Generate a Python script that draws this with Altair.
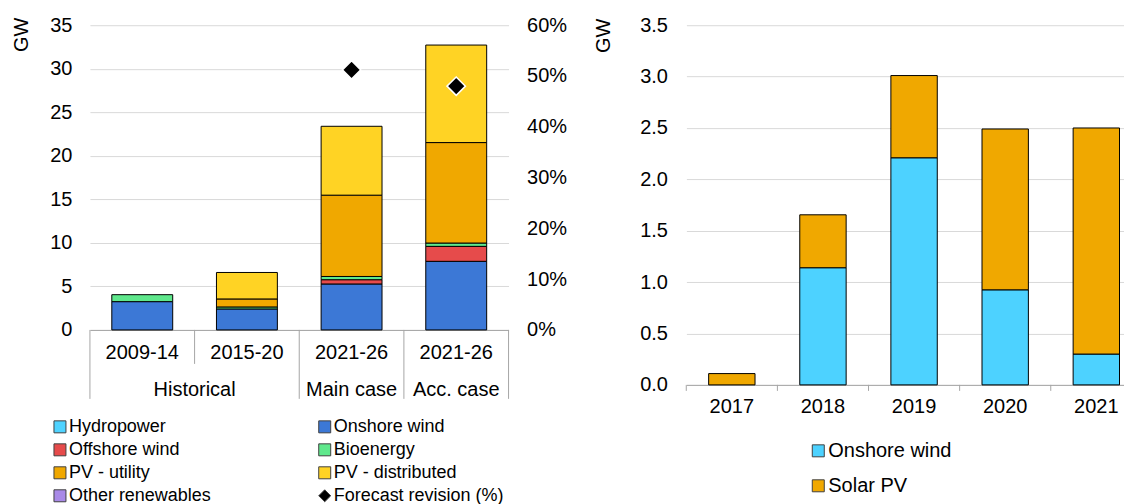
import altair as alt
import pandas as pd

# ---------------- Left chart data ----------------
periods = ["2009-14", "2015-20", "2021-26 main", "2021-26 acc"]
period_labels = ["2009-14", "2015-20", "2021-26", "2021-26"]
# legend order (laid out column by column: 4 rows x 2 columns)
legend_series = ["Hydropower", "Offshore wind", "PV - utility", "Other renewables",
                 "Onshore wind", "Bioenergy", "PV - distributed",
                 "Forecast revision (%)"]
legend_colors = ["#4FD3FF", "#E64B4B", "#F0A800", "#A98AE8",
                 "#3C78D6", "#5FE88C", "#FFD324", "#000000"]
legend_shapes = ["square"] * 7 + ["diamond"]

hydro = [0, 0, 0, 0]
onshore = [3.25, 2.41, 5.28, 7.88]
offshore = [0, 0, 0.49, 1.72]
bioenergy = [0.8, 0.23, 0.37, 0.38]
pv_utility = [0, 0.92, 9.34, 11.54]
pv_distributed = [0, 3.04, 7.91, 11.2]
other = [0, 0, 0, 0]

revision_periods = ["2021-26 main", "2021-26 acc"]
revision_values = [0.512, 0.480]

# ---------------- Right chart data ----------------
years = ["2017", "2018", "2019", "2020", "2021"]
wind_r = [0, 1.14, 2.21, 0.925, 0.30]
solar_r = [0.11, 0.515, 0.80, 1.565, 2.20]
right_series = ["Onshore wind", "Solar PV"]
right_colors = ["#4DD2FF", "#F0A800"]

# ---------------- Build tables ----------------
stack_names = ["Onshore wind", "Offshore wind", "Bioenergy", "Hydropower",
               "PV - utility", "PV - distributed", "Other renewables"]
stack_vals = [onshore, offshore, bioenergy, hydro, pv_utility, pv_distributed, other]
rows = []
for i, p in enumerate(periods):
    for j, (s, v) in enumerate(zip(stack_names, stack_vals)):
        if v[i] > 0:
            rows.append({"period": p, "series": s, "gw": v[i], "ord": j})
left_df = pd.DataFrame(rows)
rev_df = pd.DataFrame({"period": revision_periods, "rev": revision_values,
                       "series": ["Forecast revision (%)"] * 2})
lab_df = pd.DataFrame({"period": periods, "label": period_labels})

rrows = []
for i, y in enumerate(years):
    for j, (s, v) in enumerate(zip(right_series, [wind_r, solar_r])):
        if v[i] > 0:
            rrows.append({"year": y, "series": s, "gw": v[i], "ord": j})
right_df = pd.DataFrame(rrows)

W1, H1 = 419, 305
W2, H2 = 438, 360
step1 = W1 / 4
PI2, PO2 = 0.491, 0.1468
step2 = W2 / (len(years) - PI2 + 2 * PO2)
FONT = "Liberation Sans"
LINE = "#a6a6a6"
FS = 20

xs = alt.X("period:N", sort=periods,
           scale=alt.Scale(domain=periods, paddingInner=0.418, paddingOuter=0.209),
           axis=alt.Axis(title=None, labels=False, ticks=False, grid=False,
                         domain=True, domainColor=LINE, domainWidth=1))

color_scale = alt.Scale(domain=legend_series, range=legend_colors)
shape_scale = alt.Scale(domain=legend_series, range=legend_shapes)
leg = dict(title=None, orient="none", legendX=-39, legendY=393, columns=2,
           columnPadding=104, rowPadding=5, symbolSize=144, labelOffset=0,
           symbolStrokeColor="#404040", symbolStrokeWidth=1, padding=0,
           labelFontSize=18, labelLimit=400)

bars = alt.Chart(left_df).mark_bar(stroke="black", strokeWidth=1).encode(
    x=xs,
    y=alt.Y("gw:Q", stack="zero", scale=alt.Scale(domain=[0, 35]),
            axis=alt.Axis(values=list(range(0, 36, 5)), title="GW", ticks=False,
                          domain=False, labelPadding=18, titleAngle=270,
                          titleAlign="right", titleBaseline="middle",
                          titleX=-68, titleY=-8)),
    color=alt.Color("series:N", scale=color_scale, legend=alt.Legend(**leg)),
    order=alt.Order("ord:Q"),
)

pts = alt.Chart(rev_df).mark_point(filled=True, size=340, stroke="white",
                                   strokeWidth=1.5, opacity=1).encode(
    x=alt.X("period:N", sort=periods),
    y=alt.Y("rev:Q", scale=alt.Scale(domain=[0, 0.6]),
            axis=alt.Axis(orient="right", format=".0%", grid=False, ticks=False,
                          domain=False, labelPadding=18, title=None,
                          values=[0, 0.1, 0.2, 0.3, 0.4, 0.5, 0.6])),
    color=alt.Color("series:N", scale=color_scale, legend=alt.Legend(**leg)),
    shape=alt.Shape("series:N", scale=shape_scale, legend=alt.Legend(**leg)),
)

xp = alt.X("period:N", sort=periods)
t1 = alt.Chart(lab_df).mark_text(fontSize=FS, font=FONT, color="black").encode(
    x=xp, y=alt.value(H1 + 23), text="label:N")
t_hist = alt.Chart(pd.DataFrame({"period": ["2009-14"], "g": ["Historical"]})).mark_text(
    fontSize=FS, font=FONT, color="black", dx=step1 / 2).encode(
    x=xp, y=alt.value(H1 + 60), text="g:N")
t_cases = alt.Chart(pd.DataFrame({"period": ["2021-26 main", "2021-26 acc"],
                                  "g": ["Main case", "Acc. case"]})).mark_text(
    fontSize=FS, font=FONT, color="black").encode(
    x=xp, y=alt.value(H1 + 60), text="g:N")

r_long = alt.Chart(pd.DataFrame({"period": ["2009-14", "2021-26 main", "2021-26 acc"]})).mark_rule(
    color=LINE, strokeWidth=1, xOffset=-step1 / 2).encode(
    x=xp, y=alt.value(H1), y2=alt.value(H1 + 69))
r_end = alt.Chart(pd.DataFrame({"period": ["2021-26 acc"]})).mark_rule(
    color=LINE, strokeWidth=1, xOffset=step1 / 2).encode(
    x=xp, y=alt.value(H1), y2=alt.value(H1 + 69))
r_short = alt.Chart(pd.DataFrame({"period": ["2015-20"]})).mark_rule(
    color=LINE, strokeWidth=1, xOffset=-step1 / 2).encode(
    x=xp, y=alt.value(H1), y2=alt.value(H1 + 34))

left = alt.layer(bars, pts, t1, t_hist, t_cases, r_long, r_end, r_short).resolve_scale(
    y="independent").properties(width=W1, height=H1)

xr = alt.X("year:N", sort=years,
           scale=alt.Scale(domain=years, paddingInner=PI2, paddingOuter=PO2, align=0.832),
           axis=alt.Axis(title=None, labelAngle=0, ticks=False,
                         domainColor=LINE, labelPadding=12, grid=False))

rbars = alt.Chart(right_df).mark_bar(stroke="black", strokeWidth=1).encode(
    x=xr,
    y=alt.Y("gw:Q", stack="zero", scale=alt.Scale(domain=[0, 3.5]),
            axis=alt.Axis(values=[0, 0.5, 1, 1.5, 2, 2.5, 3, 3.5], format=".1f",
                          title="GW", ticks=False, domain=False, labelPadding=19,
                          titleAngle=270, titleAlign="right", titleBaseline="middle",
                          titleX=-82.5, titleY=-7)),
    color=alt.Color("series:N", scale=alt.Scale(domain=right_series, range=right_colors),
                    legend=alt.Legend(title=None, orient="none", legendX=122, legendY=416,
                                      direction="vertical", rowPadding=15, symbolSize=144,
                                      labelOffset=0, symbolStrokeColor="#404040",
                                      symbolStrokeWidth=1, padding=0, labelFontSize=20)),
    order=alt.Order("ord:Q"),
)
rticks = alt.Chart(pd.DataFrame({"year": years})).mark_rule(
    color=LINE, strokeWidth=1, xOffset=-step2 / 2).encode(
    x=alt.X("year:N", sort=years), y=alt.value(H2), y2=alt.value(H2 + 6))

right = alt.layer(rbars, rticks).properties(width=W2, height=H2)

chart = alt.hconcat(left, right, spacing=26).resolve_scale(
    color="independent", shape="independent").resolve_legend(
    color="independent", shape="independent").properties(
    padding={"left": 4, "top": 7, "right": 0, "bottom": 0}
).configure(font=FONT).configure_view(stroke=None).configure_axis(
    labelFont=FONT, labelFontSize=FS, labelColor="black", titleFont=FONT,
    titleFontSize=FS, titleFontWeight="normal", titleColor="black",
    gridColor="#d9d9d9", gridWidth=1
).configure_legend(labelFont=FONT, labelColor="black")

chart.save("out.html", embed_options={"renderer": "svg", "actions": False})
